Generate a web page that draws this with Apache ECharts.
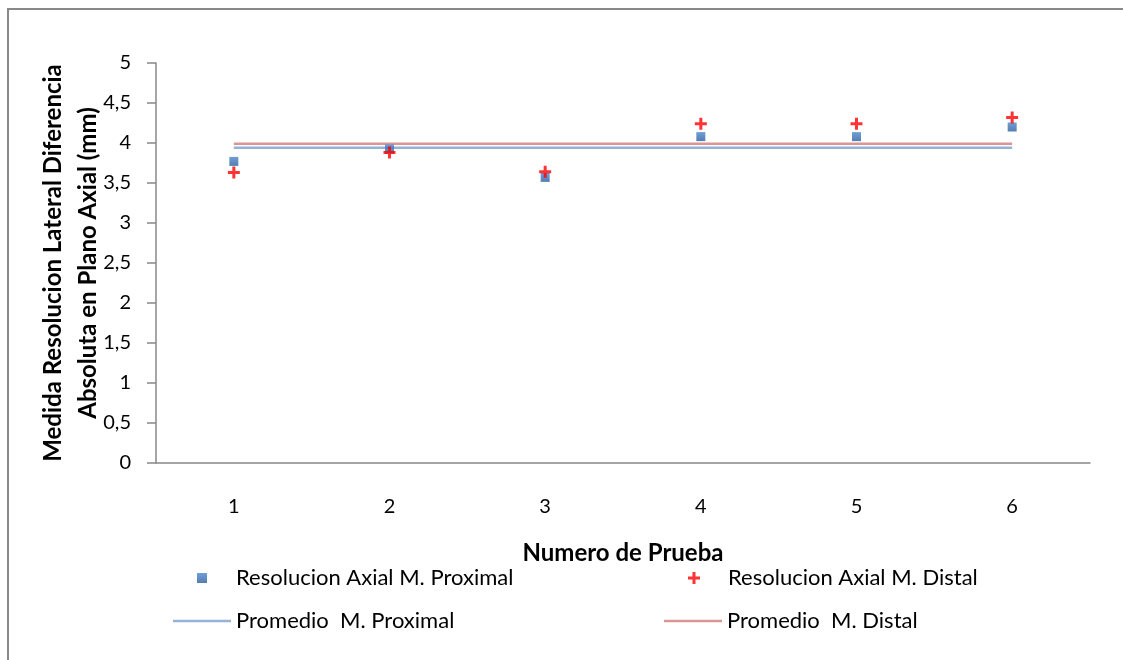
<!DOCTYPE html>
<html>
<head>
<meta charset="utf-8">
<script src="https://cdn.jsdelivr.net/npm/echarts@6/dist/echarts.min.js"></script>
<style>
html,body{margin:0;padding:0;background:#fff;}
#main{width:1123px;height:660px;}
</style>
</head>
<body>
<div id="main"></div>
<script>
// datos
var pruebas = ['1', '2', '3', '4', '5', '6'];
var proximal = [3.77, 3.925, 3.57, 4.08, 4.08, 4.2];
var distal = [3.63, 3.88, 3.64, 4.24, 4.24, 4.32];
var promedioProximal = [3.94, 3.94, 3.94, 3.94, 3.94, 3.94];
var promedioDistal = [3.99, 3.99, 3.99, 3.99, 3.99, 3.99];
var yTicks = ['0', '0,5', '1', '1,5', '2', '2,5', '3', '3,5', '4', '4,5', '5'];

var cruz = 'path://M4.5,0H7.5V4.5H12V7.5H7.5V12H4.5V7.5H0V4.5H4.5Z';
var cuadro = 'path://M0,0H10V10H0Z';
var fuente = 'Lato';

function leyenda(nombre, icono, alto, x, y) {
    return {
        data: [{ name: nombre, icon: icono }],
        left: x,
        top: y,
        itemWidth: 58,
        itemHeight: alto,
        itemGap: 0,
        symbolKeepAspect: icono !== 'rect',
        selectedMode: false,
        textStyle: { fontFamily: fuente, fontSize: 22, color: '#000' }
    };
}

var myChart = echarts.init(document.getElementById('main'));
myChart.setOption({
    animation: false,
    backgroundColor: '#fff',
    graphic: [{
        type: 'rect',
        shape: { x: 8, y: 9, width: 1200, height: 700 },
        style: { fill: 'none', stroke: '#888', lineWidth: 2 },
        silent: true
    }],
    grid: { left: 156, right: 33, top: 63, bottom: 197 },
    legend: [
        leyenda('Resolucion Axial M. Proximal', cuadro, 10, 192, 562),
        leyenda('Resolucion Axial M. Distal', cruz, 12, 683, 562),
        leyenda('Promedio  M. Proximal', 'rect', 2.5, 168, 605),
        leyenda('Promedio  M. Distal', 'rect', 2.5, 659, 605)
    ],
    xAxis: {
        type: 'category',
        data: pruebas,
        boundaryGap: true,
        name: 'Numero de Prueba',
        nameLocation: 'middle',
        nameGap: 78,
        nameMoveOverlap: false,
        nameTextStyle: { fontFamily: fuente, fontSize: 24, fontWeight: 'bold', color: '#000' },
        axisLine: { lineStyle: { color: '#888', width: 1.5 } },
        axisTick: { alignWithLabel: true, length: 6, lineStyle: { color: '#888', width: 1.5 } },
        axisLabel: { margin: 34, fontFamily: fuente, fontSize: 20, color: '#000' },
        splitLine: { show: false }
    },
    yAxis: {
        type: 'value',
        min: 0,
        max: 5,
        interval: 0.5,
        name: 'Medida Resolucion Lateral Diferencia\nAbsoluta en Plano Axial (mm)',
        nameLocation: 'middle',
        nameGap: 50,
        nameMoveOverlap: false,
        nameTextStyle: { fontFamily: fuente, fontSize: 24, fontWeight: 'bold', color: '#000', lineHeight: 35 },
        axisLine: { show: true, lineStyle: { color: '#888', width: 1.5 } },
        axisTick: { show: true, inside: false, length: 9, lineStyle: { color: '#888', width: 1.5 } },
        axisLabel: {
            margin: 25,
            fontFamily: fuente,
            fontSize: 20,
            color: '#000',
            formatter: function (v) { return yTicks[Math.round(v * 2)]; }
        },
        splitLine: { show: false }
    },
    series: [
        {
            name: 'Resolucion Axial M. Proximal',
            type: 'scatter',
            data: proximal,
            symbol: 'rect',
            symbolSize: 9,
            itemStyle: {
                color: new echarts.graphic.LinearGradient(0, 0, 0, 1, [
                    { offset: 0, color: '#4a86cf' },
                    { offset: 1, color: '#2b5d9b' }
                ])
            },
            z: 4
        },
        {
            name: 'Resolucion Axial M. Distal',
            type: 'scatter',
            data: distal,
            symbol: cruz,
            symbolSize: 12,
            itemStyle: { color: '#ff0000' },
            z: 5
        },
        {
            name: 'Promedio  M. Proximal',
            type: 'line',
            data: promedioProximal,
            showSymbol: false,
            symbol: 'none',
            lineStyle: { color: '#95b3d7', width: 2.5 },
            itemStyle: { color: '#95b3d7' },
            z: 2
        },
        {
            name: 'Promedio  M. Distal',
            type: 'line',
            data: promedioDistal,
            showSymbol: false,
            symbol: 'none',
            lineStyle: { color: '#d99694', width: 2.5 },
            itemStyle: { color: '#d99694' },
            z: 2
        }
    ]
});
</script>
</body>
</html>
